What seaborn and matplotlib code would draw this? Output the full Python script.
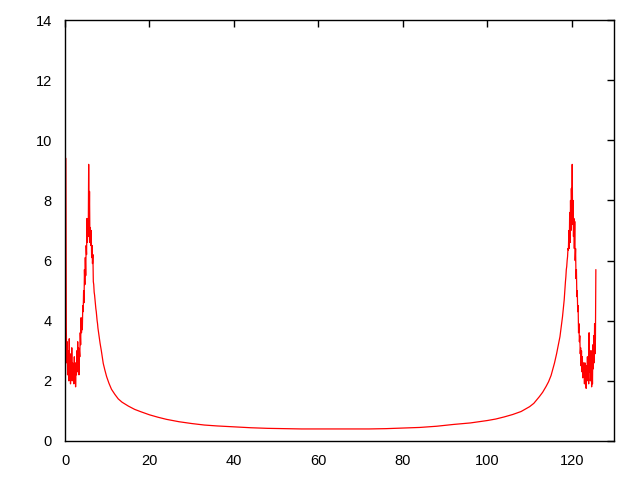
import seaborn as sns
import matplotlib
matplotlib.use('Agg')
import matplotlib.pyplot as plt
import pandas as pd
import numpy as np

# left noisy part, sampled every 0.1 from x = 0.2
left_start = 0.2
left_y = [9.4, 3.8, 2.6, 3.3, 2.2, 3.0, 2.5, 2.0,
          3.4, 2.3, 2.9, 1.9, 2.7, 2.1, 3.1, 2.0, 2.6, 2.2,
          2.5, 1.9, 2.8, 2.1, 2.6, 1.8, 2.4, 2.2, 3.0, 2.3,
          3.3, 2.4, 3.1, 2.2, 3.0, 2.8, 3.6, 3.2, 4.1, 3.6,
          4.0, 3.7, 4.5, 4.3, 5.0, 4.6, 5.7, 5.2, 6.1, 5.5,
          6.5, 6.2, 7.4, 6.6, 7.2, 6.8, 9.2, 7.0, 8.3, 6.6,
          7.1, 6.5, 7.0, 6.1, 6.5, 5.9, 6.2, 5.3, 5.2, 4.95,
          4.85, 4.7, 4.55, 4.4, 4.3, 4.15, 4.0, 3.9, 3.75, 3.65,
          3.55, 3.45, 3.35, 3.25]

# smooth middle part
mid_x = [8.6, 9.05, 9.45, 9.85, 10.4, 11.0, 11.8, 12.6, 13.5, 15.0, 16.5,
         18, 20, 22, 24, 27, 30, 33, 36, 40, 44, 48, 52, 56, 60, 64, 68, 72,
         76, 80, 84, 88, 92, 96, 100, 102, 104, 106, 108, 110, 111, 112.3,
         113.1, 113.9, 114.5, 115.0]
mid_y = [3.0, 2.58, 2.35, 2.14, 1.92, 1.72, 1.55, 1.40, 1.29, 1.16, 1.05,
         0.97, 0.87, 0.79, 0.72, 0.64, 0.58, 0.53, 0.50, 0.47, 0.44, 0.42,
         0.41, 0.40, 0.40, 0.40, 0.40, 0.40, 0.41, 0.43, 0.45, 0.49, 0.55,
         0.60, 0.68, 0.73, 0.80, 0.88, 0.98, 1.14, 1.25, 1.47, 1.62, 1.81,
         1.97, 2.14]

# right noisy part, sampled every 0.1 from x = 115.1
right_start = 115.1
right_y = [2.18, 2.23, 2.28, 2.33, 2.38, 2.43, 2.48, 2.53, 2.59,
           2.65, 2.71, 2.77, 2.84, 2.90, 2.97, 3.03, 3.1, 3.18, 3.25,
           3.32, 3.4, 3.47, 3.58, 3.69, 3.8, 3.9, 4.02, 4.13, 4.27,
           4.41, 4.55, 4.69, 4.9, 5.1, 5.3, 5.46, 5.7, 5.8, 6.0,
           6.13, 6.4, 6.35, 7.0, 6.4, 7.6, 6.6, 8.0, 7.0, 8.4,
           7.6, 9.2, 7.2, 8.0, 6.8, 7.4, 6.4, 7.3, 6.0, 6.4,
           5.4, 5.7, 4.8, 5.0, 4.3, 4.5, 3.6, 3.9, 3.3, 3.5,
           2.9, 3.1, 2.5, 3.0, 2.3, 2.8, 2.1, 2.6, 2.2, 2.4,
           1.9, 2.6, 2.0, 2.3, 1.75, 2.5, 2.0, 2.8, 2.1, 2.2,
           1.9, 3.6, 2.3, 3.0, 2.0, 2.7, 3.0, 1.8, 2.6, 1.9,
           3.2, 2.4, 3.5, 2.6, 3.9, 2.9, 3.4, 5.7]

x_ticks = [0, 20, 40, 60, 80, 100, 120]
y_ticks = [0, 2, 4, 6, 8, 10, 12, 14]


def run():
    left_x = left_start + 0.1 * np.arange(len(left_y))
    right_x = right_start + 0.1 * np.arange(len(right_y))
    df = pd.DataFrame({
        'x': np.concatenate([left_x, mid_x, right_x]),
        'y': np.concatenate([left_y, mid_y, right_y]),
    })

    sns.set_style('white')
    plt.rcParams['font.family'] = ['Liberation Sans', 'DejaVu Sans']
    fig = plt.figure(figsize=(6.4, 4.8), dpi=100)
    ax = fig.add_axes([0.1016, 0.0813, 0.8578, 0.877])
    sns.lineplot(df, x='x', y='y', ax=ax, color='#ff0000', lw=0.9,
                 sort=False, estimator=None)

    ax.set_xlim(0, 130)
    ax.set_ylim(0, 14)
    ax.set_xticks(x_ticks)
    ax.set_yticks(y_ticks)
    ax.tick_params(direction='in', length=5, width=1, colors='black',
                   top=True, right=True, labelsize=10.5, pad=9.5)
    ax.set_xlabel('')
    ax.set_ylabel('')
    for s in ax.spines.values():
        s.set_color('black')
        s.set_linewidth(1)

    fig.savefig('out.png', dpi=100)


run()
